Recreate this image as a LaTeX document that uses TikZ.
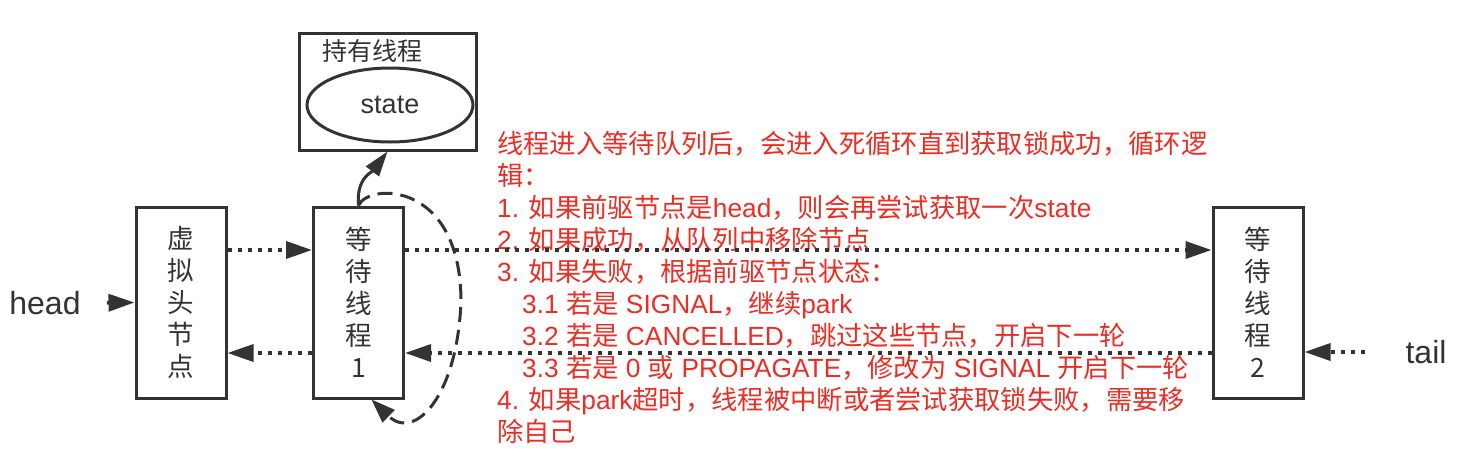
\documentclass[tikz,border=0pt]{standalone}
\usepackage{fontspec}
\setmainfont{Liberation Sans}
\newfontfamily\cjk{Noto Sans CJK SC}
\usepackage{xcolor}
\usetikzlibrary{arrows.meta,shapes.geometric,calc}

\definecolor{inkgray}{HTML}{333333}
\definecolor{notered}{RGB}{235,45,35}

\tikzset{
  qbox/.style={draw=inkgray, line width=3pt, minimum width=90pt, minimum height=191pt,
    inner sep=0pt, align=center, text=inkgray, font=\cjk\fontsize{26.5}{32}\selectfont},
  ownbox/.style={draw=inkgray, line width=3pt, minimum width=177pt, minimum height=117pt, inner sep=0pt},
  stateell/.style={ellipse, draw=inkgray, line width=3pt, minimum width=166pt, minimum height=74pt,
    inner sep=0pt, text=inkgray, font=\fontsize{27}{30}\selectfont},
  endlbl/.style={inner sep=0pt, text=inkgray, font=\fontsize{32}{36}\selectfont},
  notetxt/.style={anchor=north west, inner sep=0pt, align=left, text=notered,
    font=\fontsize{26.3}{32}\selectfont},
  dotarrow/.style={draw=inkgray, line width=3.5pt, dash pattern=on 4pt off 6pt,
    -{Triangle[length=26pt,width=17pt]}},
  loopline/.style={draw=inkgray, line width=3pt, dash pattern=on 15pt off 8pt,
    -{Triangle[length=24pt,width=17pt]}},
  solidarrow/.style={draw=inkgray, line width=3pt, -{Triangle[length=25pt,width=16pt]}}
}

\begin{document}
\begin{tikzpicture}[x=1pt,y=-1pt]

  \useasboundingbox (0,0) rectangle (1474,464);

  \coordinate (D)   at (181,302.5);
  \coordinate (W1)  at (358.5,302.5);
  \coordinate (W2)  at (1258,302.5);
  \coordinate (OWN) at (387.5,91.5);
  \coordinate (ST)  at (390,105);
  \coordinate (TXT) at (497,131);

  \node[qbox] (dummy) at (D) {虚\\拟\\头\\节\\点};
  \node[qbox] (wait1) at (W1) {等\\待\\线\\程\\1};
  \node[qbox] (wait2) at (W2) {等\\待\\线\\程\\2};
  \node[ownbox] (owner) at (OWN) {};
  \node[endlbl, font=\cjk\fontsize{25}{30}\selectfont] (ownlbl) at (372,51) {持有线程};
  \node[stateell] (state) at (ST) {state};
  \node[endlbl] (head) at (45,303) {head};
  \node[endlbl] (tail) at (1426,352) {tail};
  \node[notetxt] (note) at (TXT) {{\cjk 线程进入等待队列后，会进入死循环直到获取锁成功，循环逻}\\
    {\cjk 辑：}\\
    1. {\cjk 如果前驱节点是}head{\cjk ，则会再尝试获取一次}state\\
    2. {\cjk 如果成功，从队列中移除节点}\\
    3. {\cjk 如果失败，根据前驱节点状态：}\\
    \hspace*{25pt}3.1 {\cjk 若是} SIGNAL{\cjk ，继续}park\\
    \hspace*{25pt}3.2 {\cjk 若是} CANCELLED{\cjk ，跳过这些节点，开启下一轮}\\
    \hspace*{25pt}3.3 {\cjk 若是} 0 {\cjk 或} PROPAGATE{\cjk ，修改为} SIGNAL {\cjk 开启下一轮}\\
    4. {\cjk 如果}park{\cjk 超时，线程被中断或者尝试获取锁失败，需要移}\\
    {\cjk 除自己}};

  \draw[dotarrow, shorten <=26pt] (head.east) -- (dummy.west);
  \draw[dotarrow] ([yshift=52.5pt]dummy.east) -- ([yshift=52.5pt]wait1.west);
  \draw[dotarrow] ([yshift=-50.5pt]wait1.west) -- ([yshift=-50.5pt]dummy.east);
  \draw[dotarrow] ([yshift=52.5pt]wait1.east) -- ([yshift=52.5pt]wait2.west);
  \draw[dotarrow] ([yshift=-50.5pt]wait2.west) -- ([yshift=-50.5pt]wait1.east);
  \draw[dotarrow, shorten <=40pt] (tail.west) -- (tail.west -| wait2.east);

  \draw[solidarrow] (wait1.north) .. controls (356,178) and (372,172) .. (owner.south);
  \draw[loopline] (wait1.north) .. controls (368,183) and (460,180) .. (461,300)
    .. controls (458,395) and (415,442) .. ([xshift=13pt]wait1.south);

\end{tikzpicture}
\end{document}
